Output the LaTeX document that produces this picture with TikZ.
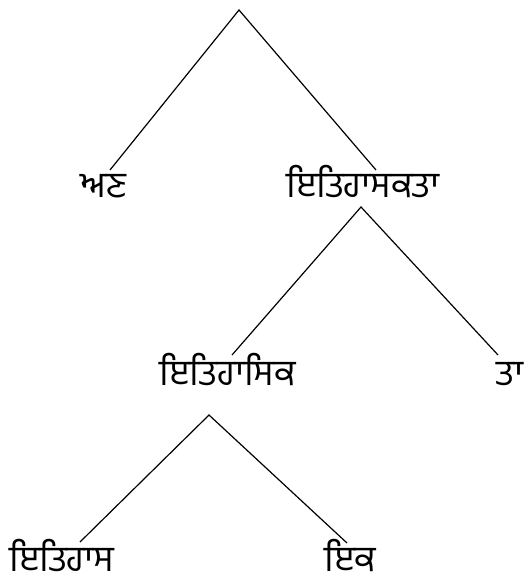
\documentclass[tikz,border=0pt]{standalone}
\usepackage{fontspec}
\newfontfamily\gurfont[Script=Gurmukhi]{Hind Jalandhar}
\begin{document}
\begin{tikzpicture}[x=1pt,y=-1pt,
  lbl/.style={anchor=base,inner sep=0pt,font=\gurfont\fontsize{36}{40}\selectfont},
  edge/.style={draw=black,line width=1.2pt}]
\useasboundingbox (0,0) rectangle (526,575);
% apexes
\coordinate (r) at (239,10);
\coordinate (m) at (361,207);
\coordinate (k) at (209,415);
% line ends
\coordinate (e1) at (110,170);
\coordinate (e2) at (376,170);
\coordinate (e3) at (232,355);
\coordinate (e4) at (498,355);
\coordinate (e5) at (80,542);
\coordinate (e6) at (347,543);
% labels
\node[lbl] (an) at (103,197) {ਅਣ};
\node[lbl] (itk) at (363,197) {ਇਤਿਹਾਸਕਤਾ};
\node[lbl] (itik) at (228,385) {ਇਤਿਹਾਸਿਕ};
\node[lbl] (ta) at (510,385) {ਤਾ};
\node[lbl] (its) at (62,571) {ਇਤਿਹਾਸ};
\node[lbl] (ik) at (350,571) {ਇਕ};
% edges
\draw[edge] (e1) -- (r) -- (e2);
\draw[edge] (e3) -- (m) -- (e4);
\draw[edge] (e5) -- (k) -- (e6);
\end{tikzpicture}
\end{document}
